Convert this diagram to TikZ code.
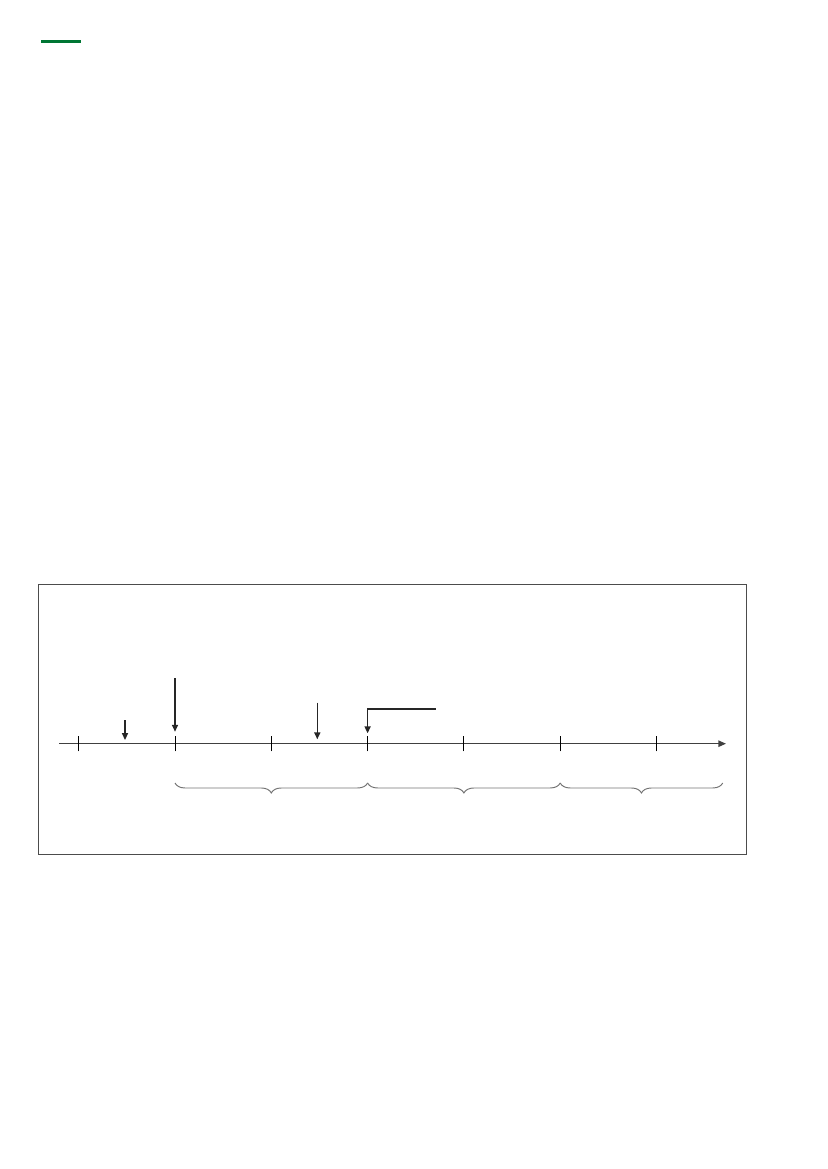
\documentclass[tikz,border=0pt]{standalone}
\usetikzlibrary{arrows.meta,decorations.pathreplacing}
\definecolor{bargreen}{RGB}{0,118,52}
\tikzset{
  axisline/.style={line width=0.9pt,black!75,-{Triangle[length=5.5pt,width=4.6pt]}},
  tickmark/.style={line width=0.6pt,black},
  pointer/.style={line width=0.95pt,black!85,-{Triangle[length=5pt,width=4.4pt]}},
  bracket/.style={line width=0.7pt,black!55,decorate,decoration={brace,mirror,amplitude=7.2pt}},
}
\begin{document}
\begin{tikzpicture}[x=0.254mm,y=-0.254mm]
\useasboundingbox (0,0) rectangle (827,1169);
% top rule
\draw[bargreen,line width=2.7pt] (41,41.5) -- (81,41.5);
% frame
\draw[line width=0.7pt,black!70] (38.7,584.7) rectangle (746,854.3);
% time axis
\coordinate (start) at (59,743.7);
\coordinate (end) at (726,743.7);
\draw[axisline] (start) -- (end);
\foreach \i in {0,...,6}{
  \coordinate (t\i) at (78.7+96.3*\i,743.7);
  \coordinate (b\i) at (78.7+96.3*\i,783);
  \draw[tickmark] ([yshift=-5.5]t\i) -- ([yshift=5.5]t\i);
}
\coordinate (b7) at (722.7,783);
% events
\coordinate (p0) at (125,720);  \coordinate (q0) at (125,740);
\coordinate (p1) at (175,678);  \coordinate (q1) at (175,731.7);
\coordinate (p2) at (317.3,702.7); \coordinate (q2) at (317.3,739.3);
\coordinate (p3) at (435.7,709); \coordinate (q3) at (367.6,733.3);
\draw[pointer] (p0) -- (q0);
\draw[pointer] (p1) -- (q1);
\draw[pointer] (p2) -- (q2);
\draw[pointer] (p3) -| (q3);
% periods
\draw[bracket] (b1) -- (b3);
\draw[bracket] (b3) -- (b5);
\draw[bracket] (b5) -- (b7);
\end{tikzpicture}
\end{document}
